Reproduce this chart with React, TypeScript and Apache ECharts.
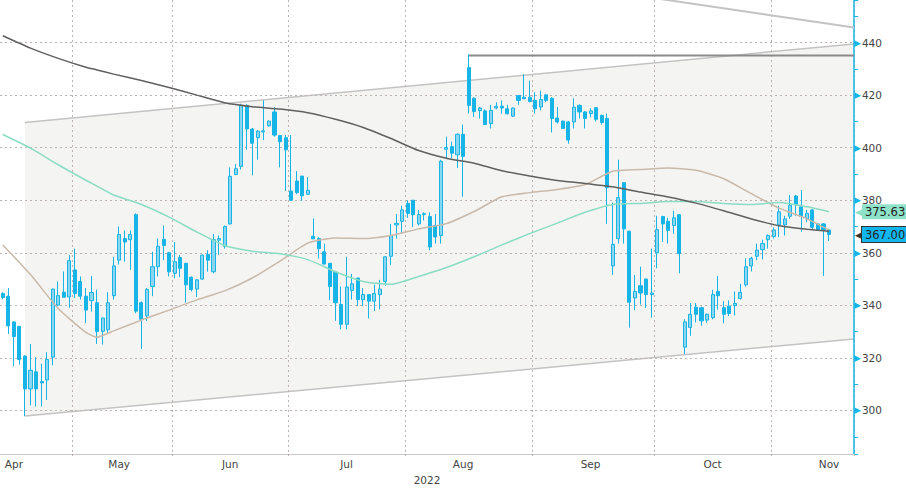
import React, { useEffect, useRef } from "react";
import * as echarts from "echarts";

// ---------- categories ----------
const START_DATE = [2022, 3, 13]; // 2022-04-13 (month 0-based)
const TRADING_DAYS = 150;
const EMPTY_SLOTS = 4;
const HOLIDAYS = ["2022-05-02", "2022-05-03", "2022-05-27", "2022-05-30", "2022-06-20"];
const MONTHS = ["Jan", "Feb", "Mar", "Apr", "May", "Jun", "Jul", "Aug", "Sep", "Oct", "Nov", "Dec"];
const YEAR_LABEL = "2022";

// ---------- candle values ----------
const opens = [
  344.5, 343.5, 333.7, 332.0, 320.7, 308.2, 314.7, 311.0, 311.6, 320.3,
  340.1, 345.0, 343.2, 353.5, 349.1, 343.5, 341.8, 341.0, 330.1, 330.7,
  343.7, 357.2, 365.4, 365.0, 374.5, 341.0, 336.0, 347.2, 354.7, 365.1,
  360.0, 352.2, 358.2, 356.0, 350.7, 346.2, 350.0, 359.4, 352.8, 364.8,
  362.5, 371.0, 389.8, 392.9, 416.1, 407.1, 403.8, 406.0, 408.3, 413.6,
  404.6, 403.8, 383.5, 387.3, 389.2, 382.3, 366.3, 365.4, 360.4, 356.0,
  352.6, 340.3, 332.8, 345.7, 350.4, 342.2, 344.1, 341.6, 344.1, 349.1,
  358.7, 370.6, 372.0, 378.8, 380.0, 371.0, 374.6, 373.8, 370.4, 366.6,
  399.4, 400.4, 397.3, 405.1, 430.5, 418.8, 414.1, 414.0, 409.2, 415.1,
  415.8, 414.8, 412.0, 419.8, 419.2, 419.2, 418.0, 415.5, 420.1, 418.8,
  411.3, 410.1, 409.8, 409.8, 416.1, 413.6, 413.0, 415.2, 412.3, 411.1,
  355.0, 365.4, 386.7, 368.2, 342.8, 347.5, 350.0, 344.1, 360.0, 373.8,
  372.0, 370.4, 374.5, 324.1, 331.6, 339.3, 339.1, 334.4, 335.3, 345.3,
  339.1, 339.7, 339.9, 342.6, 347.8, 355.0, 358.7, 361.2, 365.0, 366.2,
  370.6, 370.6, 373.9, 381.6, 377.5, 372.9, 376.3, 371.0, 371.0, 368.7,
];
const closes = [
  343.0, 332.2, 328.1, 319.4, 308.2, 315.3, 308.2, 310.5, 319.4, 346.2,
  343.7, 343.1, 357.0, 344.5, 343.5, 338.2, 344.9, 330.1, 335.2, 341.0,
  355.0, 367.0, 364.1, 367.0, 337.8, 334.7, 346.0, 354.7, 362.5, 362.8,
  352.8, 356.6, 354.1, 347.8, 346.0, 349.7, 359.1, 357.2, 365.0, 365.4,
  370.0, 389.1, 392.0, 416.1, 407.1, 401.7, 406.3, 406.4, 410.1, 404.8,
  402.3, 399.2, 380.0, 382.9, 381.7, 383.8, 365.3, 361.6, 355.7, 347.2,
  341.0, 332.8, 347.0, 348.2, 342.2, 344.1, 341.6, 344.5, 346.2, 358.5,
  366.6, 371.2, 376.3, 375.0, 374.5, 374.5, 374.9, 362.2, 366.0, 394.8,
  400.1, 397.9, 405.1, 396.7, 416.1, 413.8, 415.1, 408.8, 414.2, 415.8,
  415.1, 412.9, 415.1, 418.0, 418.6, 417.6, 414.8, 418.3, 418.0, 411.1,
  409.8, 407.3, 402.9, 415.4, 413.6, 411.1, 414.0, 410.8, 409.6, 384.8,
  363.2, 381.0, 369.1, 341.2, 345.3, 344.7, 344.1, 344.7, 368.8, 371.0,
  368.5, 373.3, 359.7, 333.7, 336.6, 336.6, 334.1, 336.6, 344.1, 343.7,
  336.6, 336.9, 340.7, 345.0, 354.7, 357.9, 361.0, 363.5, 366.6, 368.7,
  375.6, 372.9, 378.1, 378.3, 373.8, 375.0, 369.7, 368.7, 368.7, 367.0,
];
const lows = [
  342.3, 329.1, 316.8, 317.4, 297.8, 301.9, 301.5, 301.5, 304.0, 317.2,
  339.7, 342.9, 339.1, 342.8, 342.2, 333.2, 337.6, 325.3, 325.1, 329.1,
  342.2, 355.5, 356.6, 353.5, 337.0, 323.4, 334.1, 343.5, 351.0, 357.2,
  351.0, 350.3, 350.7, 341.0, 345.3, 343.2, 349.7, 352.8, 352.2, 359.1,
  361.6, 370.8, 389.5, 391.7, 399.2, 389.5, 395.4, 402.9, 408.0, 404.2,
  392.5, 383.5, 380.0, 382.3, 379.8, 382.0, 365.3, 357.9, 355.7, 342.0,
  334.1, 330.9, 330.9, 342.2, 339.7, 339.7, 335.0, 337.8, 338.5, 347.5,
  355.4, 365.4, 367.2, 373.3, 369.8, 370.4, 372.3, 361.0, 363.5, 363.5,
  396.0, 396.0, 392.3, 381.3, 413.0, 411.7, 411.1, 408.6, 407.3, 414.6,
  412.9, 412.7, 411.7, 416.3, 418.6, 417.3, 413.0, 414.2, 417.3, 405.8,
  409.2, 407.1, 401.5, 407.3, 411.1, 407.3, 411.5, 410.0, 408.8, 371.0,
  351.6, 363.5, 363.5, 331.5, 338.2, 340.3, 339.0, 335.3, 354.1, 364.1,
  363.5, 367.2, 352.2, 321.5, 328.4, 333.5, 332.2, 333.4, 334.7, 338.4,
  333.2, 335.9, 336.2, 342.2, 347.2, 352.9, 357.2, 357.5, 361.6, 365.4,
  366.0, 366.6, 372.9, 374.1, 367.9, 371.6, 369.1, 368.5, 351.2, 364.5,
];
const highs = [
  345.0, 346.6, 333.9, 332.2, 321.0, 325.3, 320.3, 317.8, 322.2, 346.4,
  349.1, 352.9, 359.1, 361.6, 351.0, 346.6, 351.2, 346.0, 335.3, 345.0,
  358.5, 370.0, 368.5, 368.5, 375.0, 341.5, 346.6, 360.4, 365.4, 370.4,
  360.4, 364.1, 359.1, 356.2, 351.0, 349.9, 359.4, 361.0, 367.2, 366.6,
  370.4, 392.5, 393.8, 416.7, 416.5, 407.5, 406.7, 418.0, 410.4, 415.5,
  404.9, 404.8, 404.8, 391.1, 389.2, 388.8, 373.1, 366.0, 363.5, 356.0,
  352.6, 347.2, 358.5, 352.0, 350.4, 346.6, 344.1, 347.9, 349.7, 358.5,
  371.0, 374.8, 377.9, 380.0, 380.0, 376.3, 375.4, 375.4, 374.8, 395.4,
  404.2, 402.3, 405.4, 408.8, 435.5, 419.2, 415.5, 414.6, 416.3, 417.3,
  418.0, 416.3, 415.3, 420.1, 428.0, 425.5, 421.1, 421.7, 420.3, 419.2,
  415.5, 410.4, 410.2, 418.8, 416.5, 414.0, 415.0, 415.5, 412.6, 413.0,
  379.1, 395.4, 386.9, 368.4, 351.6, 354.7, 350.2, 361.6, 374.1, 374.1,
  373.3, 376.0, 374.7, 334.7, 340.9, 340.9, 339.5, 336.9, 345.9, 351.2,
  341.6, 341.9, 345.3, 348.2, 357.9, 358.5, 363.5, 365.0, 367.0, 369.7,
  377.9, 374.1, 382.0, 382.0, 383.9, 376.3, 376.6, 371.3, 371.3, 369.1,
];

// ---------- moving averages (sampled) ----------
const maIdx = [0, 5, 10, 15, 17, 20, 25, 30, 35, 40, 45, 50, 55, 60, 65, 70, 75, 80, 85, 90, 95, 100, 105, 110, 115, 120, 125, 130, 135, 140, 145, 149];
const ma200 = [442.6, 437.9, 434.0, 430.6, 429.6, 428.0, 425.6, 422.9, 420.0, 417.1, 415.6, 414.7, 413.3, 410.8, 407.7, 403.5, 398.9, 396.0, 394.1, 391.2, 389.2, 387.5, 386.4, 385.1, 383.1, 381.2, 378.9, 376.0, 372.9, 370.3, 369.0, 368.2];
const ma50 = [405.0, 399.8, 393.5, 387.6, 385.4, 382.0, 378.4, 373.6, 367.9, 362.8, 360.6, 359.6, 357.4, 352.8, 349.1, 348.0, 351.0, 354.4, 358.5, 363.0, 367.3, 371.3, 375.4, 378.4, 378.8, 379.5, 379.5, 378.8, 378.4, 379.1, 377.5, 375.6];
const ma20 = [363.0, 351.7, 338.8, 329.7, 327.9, 330.3, 334.4, 338.2, 342.1, 345.5, 350.4, 356.8, 363.7, 365.6, 365.4, 366.6, 369.1, 371.1, 375.7, 381.3, 382.9, 384.1, 386.0, 391.0, 391.7, 392.3, 391.4, 388.2, 382.5, 377.0, 372.9, 368.6];
const LAST_MA50 = 375.63;

// ---------- drawn studies (in candle-index units) ----------
const channelX = [4.5, 154];
const channelTop = [409.6, 439.5];
const channelBottom = [297.9, 327.2];
const resistanceX = [84.5, 154];
const resistanceY = [435.1, 435.1];
const upperLineX = [112, 154];
const upperLineY = [458.8, 445.7];

// ---------- axis ----------
const Y_MIN = 283.4;
const Y_MAX = 456.2;

const BLUE = "#17b4e8";
const UP_FILL = "#8ad5ef";
const FONT = "DejaVu Sans";

function buildDates(): string[] {
  const out: string[] = [];
  const d = new Date(Date.UTC(START_DATE[0], START_DATE[1], START_DATE[2]));
  while (out.length < TRADING_DAYS) {
    const wd = d.getUTCDay();
    const s = d.toISOString().slice(0, 10);
    if (wd !== 0 && wd !== 6 && !HOLIDAYS.includes(s)) out.push(s);
    d.setUTCDate(d.getUTCDate() + 1);
  }
  return out;
}

function boxLabel(value: number, bg: string, border: string | null) {
  return {
    show: true,
    position: "end",
    distance: 1,
    formatter: () => `{p|◀}{t|${value.toFixed(2)}}`,
    rich: {
      p: { color: border || bg, fontSize: 13, fontFamily: FONT, padding: [0, -3, 0, 0] },
      t: {
        color: "#222",
        fontSize: 11.5,
        fontFamily: FONT,
        backgroundColor: bg,
        borderColor: border || bg,
        borderWidth: border ? 1 : 0,
        padding: [2, 12, 1, 3],
      },
    },
  };
}

function buildOption() {
  const dates = buildDates();
  const categories = [...dates];
  for (let i = 0; i < EMPTY_SLOTS; i++) categories.push("");
  const monthStart = new Set<number>();
  const labelIdx = new Set<number>();
  const seenLabel = new Set<string>();
  dates.forEach((s, i) => {
    const m = s.slice(0, 7);
    if (i > 0 && dates[i - 1].slice(0, 7) !== m) monthStart.add(i);
    if (!seenLabel.has(m) && +s.slice(8, 10) >= 15) {
      seenLabel.add(m);
      labelIdx.add(i);
    }
  });
  const candles = opens.map((o, i) => [o, closes[i], lows[i], highs[i]]);
  const maData = (arr: number[]) => maIdx.map((idx, k) => [idx + 0.5, arr[k]]);
  const lastClose = closes[closes.length - 1];

  const dotted = { color: "#bdb3b3", type: [2, 3] as any, width: 1 };

  return {
    animation: false,
    backgroundColor: "#ffffff",
    textStyle: { fontFamily: FONT },
    grid: { left: 0, right: 52, top: 0, bottom: 30, containLabel: false },
    xAxis: [
      {
        type: "category",
        data: categories,
        boundaryGap: true,
        axisLine: { show: true, onZero: false, lineStyle: { color: "#cdc6c6", width: 1 } },
        axisTick: {
          show: true,
          interval: (i: number) => monthStart.has(i),
          length: 5,
          lineStyle: dotted,
        },
        axisLabel: {
          interval: (i: number) => labelIdx.has(i),
          formatter: (v: string) => (v ? MONTHS[+v.slice(5, 7) - 1] : ""),
          color: "#444",
          fontSize: 10.5,
          margin: 4,
          fontFamily: FONT,
        },
        splitLine: {
          show: true,
          interval: (i: number) => monthStart.has(i),
          lineStyle: dotted,
        },
        name: YEAR_LABEL,
        nameLocation: "middle",
        nameGap: 17,
        nameTextStyle: { color: "#444", fontSize: 10.5, fontFamily: FONT },
      },
      { type: "value", min: 0, max: categories.length, show: false },
    ],
    yAxis: {
      type: "value",
      position: "right",
      min: Y_MIN,
      max: Y_MAX,
      splitNumber: 8,
      axisLine: { show: true, onZero: false, lineStyle: { color: BLUE, width: 1.5 } },
      axisTick: { show: true, length: 4, lineStyle: { color: BLUE } },
      minorTick: { show: true, splitNumber: 2, length: 4, lineStyle: { color: BLUE } },
      axisLabel: {
        margin: 0,
        showMinLabel: false,
        showMaxLabel: false,
        formatter: (v: number) => `{a|▶}{b|${v}}`,
        rich: {
          a: { color: BLUE, fontSize: 9, fontFamily: FONT, padding: [0, 1, 0, 0] },
          b: { color: "#444", fontSize: 10.5, fontFamily: FONT },
        },
      },
      splitLine: { show: true, showMinLine: false, showMaxLine: false, lineStyle: dotted },
    },
    series: [
      {
        type: "custom",
        xAxisIndex: 1,
        yAxisIndex: 0,
        z: -1,
        silent: true,
        data: [[channelX[0], channelTop[0], channelBottom[0]]],
        renderItem: (_p: any, api: any) => {
          const tl = api.coord([channelX[0], channelTop[0]]);
          const tr = api.coord([channelX[1], channelTop[1]]);
          const br = api.coord([channelX[1], channelBottom[1]]);
          const bl = api.coord([channelX[0], channelBottom[0]]);
          return {
            type: "group",
            children: [
              { type: "polygon", shape: { points: [tl, tr, br, bl] }, style: { fill: "#f4f4f3" } },
              { type: "polyline", shape: { points: [tl, tr] }, style: { stroke: "#c3c3c3", lineWidth: 1.5, fill: null } },
              { type: "polyline", shape: { points: [bl, br] }, style: { stroke: "#c3c3c3", lineWidth: 1.5, fill: null } },
            ],
          };
        },
      },
      {
        type: "line",
        xAxisIndex: 1,
        data: upperLineX.map((x, i) => [x, upperLineY[i]]),
        symbol: "none",
        clip: true,
        lineStyle: { color: "#c3c3c3", width: 2 },
        z: 1,
        silent: true,
      },
      {
        type: "line",
        xAxisIndex: 1,
        data: resistanceX.map((x, i) => [x, resistanceY[i]]),
        symbol: "none",
        lineStyle: { color: "#8a8a8a", width: 2 },
        z: 1,
        silent: true,
      },
      {
        type: "candlestick",
        xAxisIndex: 0,
        data: candles,
        barWidth: 3.6,
        itemStyle: {
          color: UP_FILL,
          color0: BLUE,
          borderColor: BLUE,
          borderColor0: BLUE,
          borderWidth: 1,
        },
        z: 2,
      },
      {
        type: "line",
        xAxisIndex: 1,
        data: maData(ma20),
        symbol: "none",
        smooth: 0.2,
        lineStyle: { color: "#c9b9a9", width: 1.5 },
        z: 3,
        silent: true,
      },
      {
        type: "line",
        xAxisIndex: 1,
        data: maData(ma50),
        symbol: "none",
        smooth: 0.2,
        lineStyle: { color: "#8adcc4", width: 1.5 },
        z: 3,
        silent: true,
      },
      {
        type: "line",
        xAxisIndex: 1,
        data: maData(ma200),
        symbol: "none",
        smooth: 0.2,
        lineStyle: { color: "#606060", width: 1.5 },
        z: 3,
        silent: true,
      },
      {
        // price tags on the right axis
        type: "line",
        xAxisIndex: 1,
        data: [],
        symbol: "none",
        z: 6,
        silent: true,
        markLine: {
          silent: true,
          symbol: ["none", "none"],
          animation: false,
          lineStyle: { color: "rgba(0,0,0,0)", width: 0 },
          data: [
            { yAxis: LAST_MA50, label: boxLabel(LAST_MA50, "#8de2c8", null) },
            { yAxis: lastClose, label: boxLabel(lastClose, "#12b6ef", "#333333") },
          ],
        },
      },
    ],
  };
}

export default function App() {
  const ref = useRef<HTMLDivElement>(null);
  useEffect(() => {
    if (!ref.current) return;
    const chart = echarts.init(ref.current, null, { renderer: "svg" });
    chart.setOption(buildOption() as any);
    return () => chart.dispose();
  }, []);
  return (
    <div
      ref={ref}
      style={{ position: "fixed", left: 0, top: 0, width: 906, height: 490, background: "#fff" }}
    />
  );
}
